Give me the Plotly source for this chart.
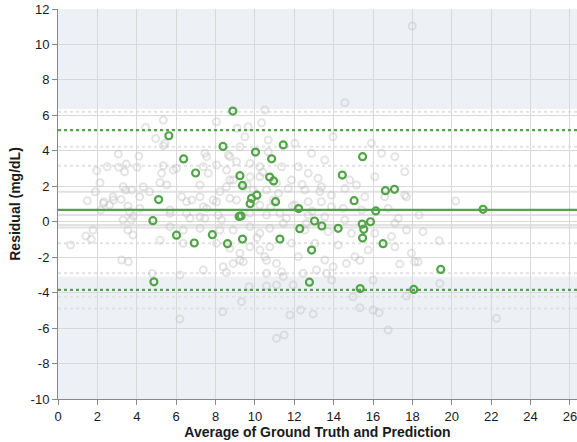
import plotly.graph_objects as go

# Highlighted model: Bland-Altman points (average vs residual)
green_avg = [8.88, 5.63, 8.38, 11.44, 10.03, 10.85, 6.38, 6.99, 9.24, 9.37,
             10.75, 10.95, 10.10, 9.76, 9.83, 11.05, 5.11, 4.82, 9.20, 9.30,
             12.22, 6.02, 6.92, 7.84, 8.61, 9.37, 11.27, 4.87, 12.28, 13.03,
             13.40, 14.23, 15.45, 15.87, 15.53, 15.47, 16.51, 12.88, 12.77, 15.35,
             18.07, 19.44, 15.47, 14.44, 16.63, 17.09, 15.04, 16.14, 21.59]
green_resid = [6.24, 4.85, 4.25, 4.33, 3.93, 3.55, 3.54, 2.75, 2.60, 2.05,
               2.52, 2.30, 1.50, 1.02, 1.32, 1.13, 1.25, 0.06, 0.30, 0.33,
               0.74, -0.76, -1.20, -0.73, -1.24, -0.98, -0.98, -3.39, -0.39, 0.04,
               -0.24, -0.37, -0.13, 0.00, -0.43, -0.92, -1.24, -1.60, -3.41, -3.77,
               -3.82, -2.69, 3.67, 2.63, 1.75, 1.83, 1.19, 0.61, 0.70]

# Other models shown in the background
gray_avg = [0.64, 1.42, 1.69, 1.78, 1.49, 1.90, 1.96, 2.13, 2.17, 2.30, 2.34, 2.50, 2.62, 2.79,
            2.81, 3.06, 3.08, 3.21, 3.30, 3.31, 3.38, 3.44, 3.47, 3.55, 3.55, 3.64, 3.72, 3.74,
            3.81, 3.82, 4.02, 4.11, 4.15, 4.16, 4.33, 4.45, 4.65, 4.96, 5.18, 5.35, 5.35, 5.35,
            5.52, 5.69, 6.02, 6.53, 6.53, 3.23, 3.57, 4.79, 6.19, 6.19,
            5.43, 5.26, 5.85, 6.28, 5.69, 5.69, 6.36, 5.18, 6.36, 6.70, 6.79, 7.21, 7.21, 7.38,
            7.55, 7.46, 7.63, 7.38, 7.46, 7.21, 7.21, 7.55, 7.88, 8.05, 8.05, 8.05, 8.05, 8.14,
            8.22, 8.22, 8.31, 8.39, 8.36, 8.56, 8.56, 8.65, 8.73, 8.73, 8.73, 8.73, 8.90, 8.90,
            8.90, 8.56, 7.38, 9.07, 9.07, 9.10, 9.24, 9.24, 9.24, 9.32, 9.41, 9.41, 9.49, 9.66,
            9.71, 9.75, 9.75, 9.75, 9.75, 9.75, 9.91, 10.25, 10.25, 10.25, 10.25, 10.25, 10.34,
            10.50, 10.50, 10.59, 10.59, 10.59, 10.59, 10.59, 10.68, 10.68, 10.76, 10.76, 10.93,
            11.10, 11.10, 11.10, 11.10, 11.27, 11.35, 11.35, 11.44, 11.44, 11.49, 11.69, 11.78,
            11.86, 11.86, 11.94,
            12.03, 12.03, 12.20, 12.20, 12.32, 12.45, 12.54, 12.54, 12.71, 12.71, 12.71, 12.88,
            12.96, 13.05, 13.13, 13.21, 13.38, 13.38, 13.55, 13.55, 13.55, 13.64, 13.72, 13.89,
            13.89, 13.90, 13.97, 13.97, 14.23, 14.48, 14.57, 14.57, 14.57, 14.65, 14.82, 14.91,
            14.99, 15.08, 15.16, 15.33, 15.33, 15.42, 15.58, 15.75, 15.92, 16.00, 16.00, 16.09,
            16.09, 16.31, 16.43, 16.60, 16.77, 16.77, 16.94, 17.11, 17.11, 17.11, 17.28, 17.36,
            17.61, 17.61, 17.70, 17.70, 17.70, 17.95, 17.99, 18.12, 18.29, 18.34, 18.54, 19.36,
            19.39, 20.20, 22.27,
            9.60, 10.00, 10.40, 10.80, 11.20, 11.60, 12.40, 12.90, 13.30, 11.90, 10.10, 12.60]
gray_resid = [-1.31, -0.81, -0.99, -0.47, 1.18, 1.69, 2.88, 2.20, 0.66, 1.04, 1.13, 3.10, 0.94, 1.41,
              1.22, 3.82, 3.07, 1.26, 0.10, 1.97, 2.82, 1.79, 3.25, 0.89, -0.47, 0.56, 0.10, 1.79,
              -0.75, 0.32, 3.07, 3.70, 1.41, 0.75, 1.97, 5.32, 1.69, 4.70, 2.20, 5.74, 4.29, 3.16,
              2.07, 0.47, 3.01, 1.13, 0.47, -2.16, -2.26, -2.91, -3.00, -5.49,
              4.42, 2.73, 2.92, 1.41, 0.66, -0.28, -0.47, -1.03, -1.22, 0.19, 1.22, 2.07, 1.41, 3.10,
              3.67, 3.86, 2.73, 0.85, 0.19, -0.37, 0.28, 0.75, 1.22, 5.64, 3.20, 1.13, -1.22, 0.38,
              1.69, -0.47, 0.10, -2.54, -5.08, 1.97, 2.92, 3.76, 3.67, 2.35, 1.32, -1.50, 2.35, -0.47,
              -2.35, -2.87, -2.72, 3.38, 1.22, 5.27, 4.23, -1.78, -2.17, -4.51, 1.97, -2.26, 4.79, 5.36,
              -3.67, 3.29, 2.54, 0.47, -0.28, -1.41, 1.79, 3.10, 2.54, 0.94, -0.65, -1.60, 5.58,
              6.30, -1.97, 1.79, 0.38, -2.17, -2.91, -3.63, 4.61, 3.95, -0.37, -1.41, 1.22,
              2.17, -2.35, -3.57, -6.58, 0.47, 3.10, -2.82, -0.09, -3.10, -6.39, 1.88, -5.26,
              2.35, -1.22, -3.57,
              4.42, 0.94, 3.10, -1.97, -4.98, -2.91, 1.79, -0.47, 2.73, 1.13, 0.38, 3.86,
              -5.20, -1.22, -2.72, 2.45, 1.97, 1.13, 3.48, 0.28, -2.16, -2.91, -0.56, 1.50,
              0.85, -3.29, 4.79, -2.54, -1.31, 0.75, 6.71, 1.88, 0.10, -2.35, 2.35, -0.65,
              -4.23, -1.97, 2.07, -2.17, -4.85, 0.66, 1.41, -1.60, 4.42, -3.29, -4.98, 2.54,
              -0.65, -5.13, 3.86, 1.41, 0.75, -6.11, -0.84, 3.67, -0.09, -1.41, 0.19, -2.39,
              2.82, 1.50, 1.41, -0.47, -4.19, -1.78, 11.04, -2.26, -2.26, 0.38, -0.56, -1.07,
              -3.48, 1.17, -5.45,
              2.10, 1.20, 2.80, 0.80, 1.60, 0.20, 2.10, 0.60, 1.70, 0.90, -0.90, -0.10]

# Mean bias and limits of agreement for the highlighted model
green_mean = 0.67
green_loa = [5.17, -3.84]

# Mean bias and limits of agreement for the background models
gray_means = [1.69, 0.38, -0.19, -0.32]
gray_loas = [6.20, 4.23, 3.16, -1.22, -2.90, -4.23, -4.89]

# Band of acceptable residuals (unshaded)
band = [-3.10, 6.36]

x_range = [0, 26.36]
y_range = [-10, 12]
x_ticks = [0, 2, 4, 6, 8, 10, 12, 14, 16, 18, 20, 22, 24, 26]
y_ticks = [-10, -8, -6, -4, -2, 0, 2, 4, 6, 8, 10, 12]

GREEN = "#52a448"
SHADE = "#edf0f5"
GRID = "#d9d9d9"
TEXT = "#1a1a1a"

fig = go.Figure()

fig.add_trace(go.Scatter(
    x=gray_avg, y=gray_resid, mode="markers",
    marker=dict(symbol="circle-open", size=7,
                line=dict(width=2, color="rgba(195,195,195,0.45)"),
                color="rgba(195,195,195,0.45)"),
    hoverinfo="skip", showlegend=False,
))
fig.add_trace(go.Scatter(
    x=green_avg, y=green_resid, mode="markers",
    marker=dict(symbol="circle-open", size=7,
                line=dict(width=2.2, color=GREEN), color=GREEN),
    showlegend=False,
))

shapes = []
# shaded regions outside the band
shapes.append(dict(type="rect", xref="paper", yref="y", x0=0, x1=1,
                   y0=band[1], y1=y_range[1], fillcolor=SHADE, line_width=0, layer="below"))
shapes.append(dict(type="rect", xref="paper", yref="y", x0=0, x1=1,
                   y0=y_range[0], y1=band[0], fillcolor=SHADE, line_width=0, layer="below"))
for m in gray_means:
    shapes.append(dict(type="line", xref="paper", yref="y", x0=0, x1=1, y0=m, y1=m,
                       line=dict(color="#e2e2e2", width=2), layer="between"))
for v in gray_loas:
    shapes.append(dict(type="line", xref="paper", yref="y", x0=0, x1=1, y0=v, y1=v,
                       line=dict(color="#e2e2e2", width=2, dash="dot"), layer="between"))
shapes.append(dict(type="line", xref="paper", yref="y", x0=0, x1=1, y0=green_mean, y1=green_mean,
                   line=dict(color=GREEN, width=2.2), layer="above"))
for v in green_loa:
    shapes.append(dict(type="line", xref="paper", yref="y", x0=0, x1=1, y0=v, y1=v,
                       line=dict(color=GREEN, width=2.2, dash="dot"), layer="above"))

fig.update_layout(
    width=577, height=442,
    margin=dict(l=58, r=0, t=9, b=43),
    paper_bgcolor="white", plot_bgcolor="white",
    font=dict(family="Liberation Sans, Arial, sans-serif", size=13, color=TEXT),
    shapes=shapes,
    showlegend=False,
)
fig.update_xaxes(
    range=x_range, tickmode="array", tickvals=x_ticks, ticktext=[str(t) for t in x_ticks],
    ticklabeloverflow="allow",
    showgrid=True, gridcolor=GRID, gridwidth=1,
    zeroline=False, showline=True, linecolor="#888", linewidth=1,
    ticks="outside", ticklen=5, tickcolor="#888",
    tickfont=dict(size=13, color=TEXT),
    title=dict(text="<b>Average of Ground Truth and Prediction</b>",
               font=dict(size=14, color=TEXT), standoff=4),
)
fig.update_yaxes(
    range=y_range, tickmode="array", tickvals=y_ticks, ticktext=[str(t) for t in y_ticks],
    ticklabeloverflow="allow",
    showgrid=True, gridcolor=GRID, gridwidth=1,
    zeroline=False, showline=True, linecolor="#888", linewidth=1,
    ticks="outside", ticklen=5, tickcolor="#888",
    tickfont=dict(size=13, color=TEXT),
    title=dict(text="<b>Residual (mg/dL)</b>",
               font=dict(size=14, color=TEXT), standoff=6),
)

fig.write_html("out.html")
